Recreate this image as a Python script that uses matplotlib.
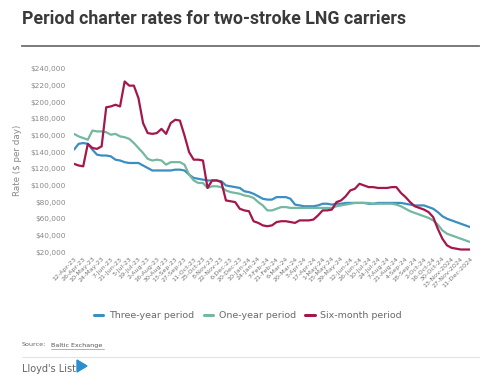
import matplotlib
matplotlib.use("Agg")
import matplotlib.pyplot as plt
from matplotlib.ticker import FuncFormatter
import datetime as dt

# ---- data ----
start = dt.date(2023, 4, 12)
dates = []
d = start
while d <= dt.date(2024, 12, 11):
    if d != dt.date(2024, 1, 3):
        dates.append(d)
    d += dt.timedelta(days=7)

tick_labels = []
for i, d in enumerate(dates):
    if i % 2 == 0:
        if d >= dt.date(2024, 11, 13):
            tick_labels.append(f"{d.day}-{d.strftime('%b')}-{d.year}")
        else:
            tick_labels.append(f"{d.day}-{d.strftime('%b')}-{d.strftime('%y')}")

three_year = [143, 150, 151, 150, 143, 137, 136, 136, 135, 131, 130, 128, 127, 127, 127, 124,
              121, 118, 118, 118, 118, 118, 119, 119, 118, 113, 109, 108, 107, 106, 106, 106,
              105, 100, 99, 98, 97, 93, 92, 90, 87, 84, 83, 83, 86, 86, 86, 84, 77, 76, 75,
              75, 75, 76, 78, 78, 77, 78, 78, 79, 79, 79, 79, 79, 78, 78, 79, 79, 79, 79, 79,
              79, 78, 77, 76, 76, 76, 74, 72, 68, 63, 60, 58, 56, 54, 52, 50]
one_year = [162, 159, 157, 155, 166, 165, 165, 164, 161, 162, 159, 158, 156, 151, 145, 139,
            132, 130, 131, 130, 125, 128, 128, 128, 125, 113, 106, 103, 103, 97, 99, 99, 98,
            94, 92, 91, 90, 88, 87, 85, 80, 76, 70, 70, 72, 74, 74, 73, 73, 73, 73, 73, 73,
            73, 73, 73, 73, 75, 76, 77, 78, 79, 79, 79, 79, 78, 78, 78, 78, 78, 77, 75, 72,
            69, 67, 65, 63, 61, 58, 53, 46, 42, 40, 38, 36, 34, 32]
six_month = [126, 124, 123, 150, 145, 144, 147, 194, 195, 197, 195, 225, 220, 220, 205, 175,
             163, 162, 163, 168, 162, 175, 179, 178, 160, 140, 131, 131, 130, 97, 106, 106,
             104, 82, 81, 80, 72, 70, 69, 57, 55, 52, 51, 52, 56, 57, 57, 56, 55, 58, 58, 58,
             59, 64, 70, 70, 71, 80, 82, 87, 94, 96, 102, 100, 98, 98, 97, 97, 97, 98, 98, 91,
             86, 80, 75, 73, 71, 68, 62, 48, 36, 28, 25, 24, 23, 23, 23]

series = [("Three-year period", three_year, "#3b8ec2"),
          ("One-year period", one_year, "#74b8a0"),
          ("Six-month period", six_month, "#a3174a")]

# ---- figure ----
fig = plt.figure(figsize=(5.0, 3.81), dpi=100)
W, H = 500, 381
ax = fig.add_axes([74 / W, 1 - 252 / H, (470 - 74) / W, (252 - 69) / H])

x = list(range(len(dates)))
for name, vals, col in series:
    ax.plot(x, [v * 1000 for v in vals], color=col, lw=1.6, label=name,
            solid_joinstyle="round", solid_capstyle="round")

ax.set_xlim(0, len(dates) - 1)
ax.set_ylim(20000, 240000)
ax.set_yticks(range(20000, 240001, 20000))
ax.yaxis.set_major_formatter(FuncFormatter(lambda v, p: f"${int(v):,}"))
ax.set_xticks(list(range(0, len(dates), 2)))
ax.set_xticklabels(tick_labels, rotation=45, ha="right", rotation_mode="anchor",
                   fontsize=4.6, color="#777777")
for s in ax.spines.values():
    s.set_visible(False)
ax.tick_params(axis="both", length=0)
ax.tick_params(axis="y", labelsize=5.3, labelcolor="#888888", pad=6)
ax.tick_params(axis="x", pad=3)
ax.set_ylabel("Rate ($ per day)", fontsize=6.3, color="#888888", labelpad=6)

# title + rule
fig.text(22 / W, 1 - 19 / H, "Period charter rates for two-stroke LNG carriers",
         fontsize=12.8, fontweight="bold", family="Roboto", color="#3a3a3a", va="center")
fig.add_artist(plt.Line2D([22 / W, 479 / W], [1 - 46 / H] * 2, color="#6f6f6f", lw=1.3))

# legend
leg = fig.legend(loc="center", bbox_to_anchor=(0.496, 1 - 316 / H), ncol=3, frameon=False,
                 fontsize=6.8, handlelength=1.0, handletextpad=0.6, columnspacing=1.0)
for t in leg.get_texts():
    t.set_color("#6a6a6a")
for h in leg.legend_handles:
    h.set_linewidth(2.2)

# source + footer
fig.text(22 / W, 1 - 345 / H, "Source:", fontsize=4.6, color="#666666", va="center")
fig.text(51 / W, 1 - 345 / H, "Baltic Exchange", fontsize=4.6, color="#555555",
         va="center")
fig.add_artist(plt.Line2D([51 / W, 104 / W], [1 - 348.5 / H] * 2, color="#777777", lw=0.4))
fig.add_artist(plt.Line2D([22 / W, 479 / W], [1 - 357 / H] * 2, color="#e2e2e2", lw=0.7))
fig.text(22 / W, 1 - 369 / H, "Lloyd's List", fontsize=7.0, color="#666666", va="center")
fig.add_artist(plt.Polygon([[77 / W, 1 - 360 / H], [77 / W, 1 - 372 / H], [87 / W, 1 - 366 / H]],
                           closed=True, color="#2a8fd0", transform=fig.transFigure))

fig.savefig("out.png", dpi=100, facecolor="white")
